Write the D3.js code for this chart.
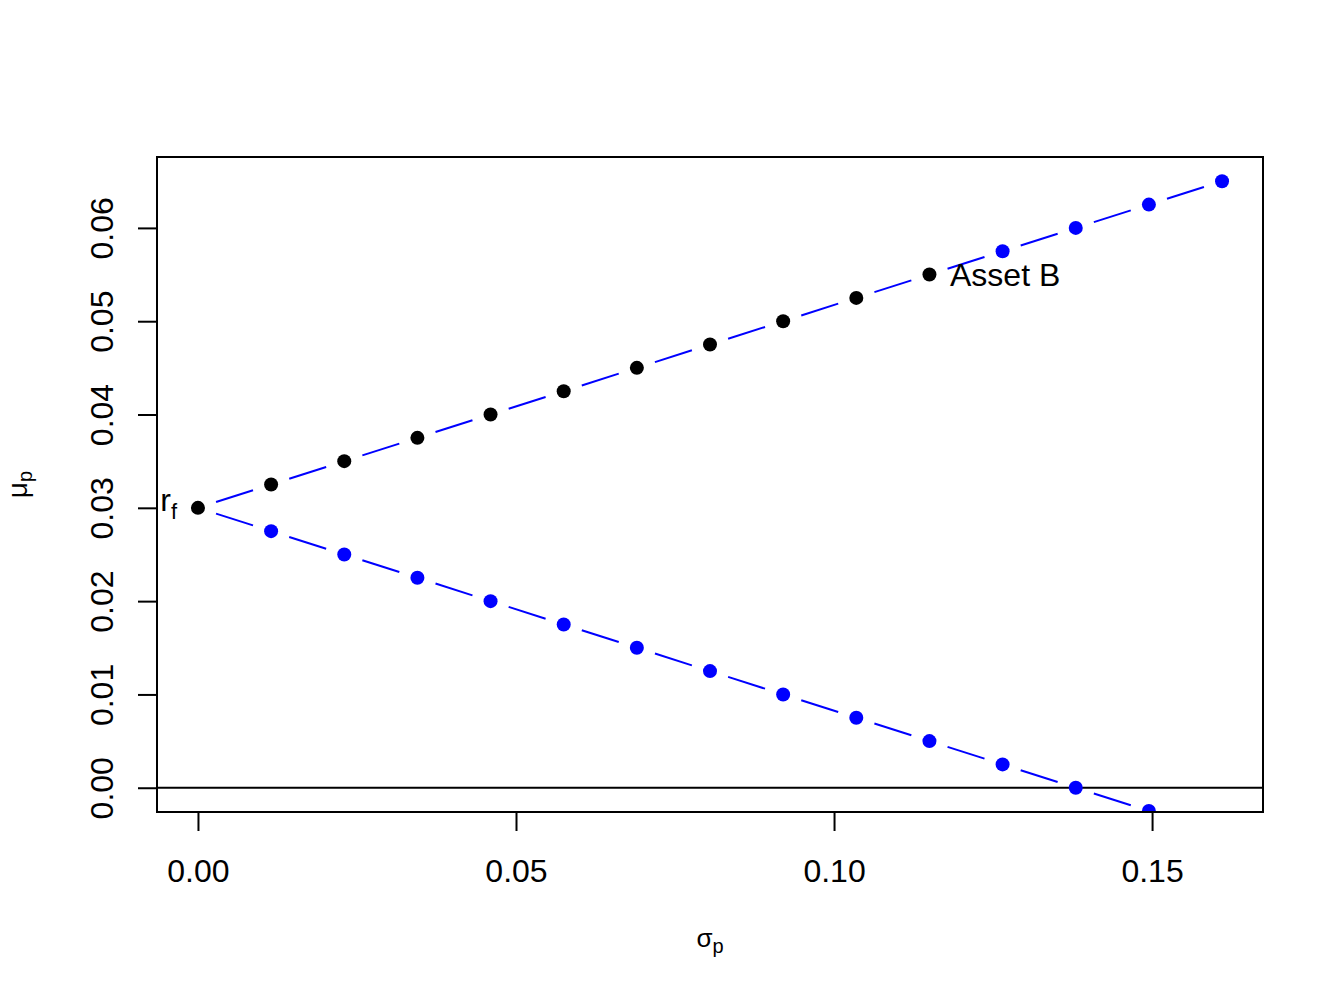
<!DOCTYPE html>
<html>
<head>
<meta charset="utf-8">
<script src="https://cdn.jsdelivr.net/npm/d3@7"></script>
<style>
  html, body { margin: 0; padding: 0; background: #fff; }
  svg { display: block; font-family: "Liberation Sans", Arial, sans-serif; }
</style>
</head>
<body>
<svg id="chart" width="1344" height="1008"></svg>
<script>
// ---- data ----
const upperSigma = [0, 0.0115, 0.023, 0.0345, 0.046, 0.0575, 0.069, 0.0805, 0.092, 0.1035, 0.115, 0.1265, 0.138, 0.1495, 0.161];
const upperMu    = [0.03, 0.0325, 0.035, 0.0375, 0.04, 0.0425, 0.045, 0.0475, 0.05, 0.0525, 0.055, 0.0575, 0.06, 0.0625, 0.065];
const upperColor = ["black","black","black","black","black","black","black","black","black","black","black","blue","blue","blue","blue"];
const lowerSigma = [0.0115, 0.023, 0.0345, 0.046, 0.0575, 0.069, 0.0805, 0.092, 0.1035, 0.115, 0.1265, 0.138, 0.1495];
const lowerMu    = [0.0275, 0.025, 0.0225, 0.02, 0.0175, 0.015, 0.0125, 0.01, 0.0075, 0.005, 0.0025, 0, -0.0025];
const rf = { sigma: 0, mu: 0.03 };
const assetB = { sigma: 0.115, mu: 0.055 };
const xTicks = [0, 0.05, 0.10, 0.15];
const xTickLabels = ["0.00", "0.05", "0.10", "0.15"];
const yTicks = [0, 0.01, 0.02, 0.03, 0.04, 0.05, 0.06];
const yTickLabels = ["0.00", "0.01", "0.02", "0.03", "0.04", "0.05", "0.06"];

// ---- layout ----
const L = 157, R = 1263, T = 157, B = 812;
const svg = d3.select("#chart");
const xRange = [0, 0.161], yRange = [0, 0.065];
const xPad = (xRange[1] - xRange[0]) * 0.04, yPad = (yRange[1] - yRange[0]) * 0.04;
const x = d3.scaleLinear().domain([xRange[0] - xPad, xRange[1] + xPad]).range([L, R]);
const y = d3.scaleLinear().domain([yRange[0] - yPad, yRange[1] + yPad]).range([B, T]);

svg.append("defs").append("clipPath").attr("id", "plotclip")
  .append("rect").attr("x", L).attr("y", T).attr("width", R - L).attr("height", B - T);

const plot = svg.append("g").attr("clip-path", "url(#plotclip)");

// horizontal line at 0
plot.append("line").attr("x1", L).attr("x2", R).attr("y1", y(0)).attr("y2", y(0))
  .attr("stroke", "black").attr("stroke-width", 2);

// type="b" style segments: gaps around points
function drawLineB(pts) {
  const gap = 19;
  for (let i = 0; i < pts.length - 1; i++) {
    const x0 = x(pts[i][0]), y0 = y(pts[i][1]);
    const x1 = x(pts[i + 1][0]), y1 = y(pts[i + 1][1]);
    const len = Math.hypot(x1 - x0, y1 - y0);
    if (len <= 2 * gap) continue;
    const ux = (x1 - x0) / len, uy = (y1 - y0) / len;
    plot.append("line")
      .attr("x1", x0 + ux * gap).attr("y1", y0 + uy * gap)
      .attr("x2", x1 - ux * gap).attr("y2", y1 - uy * gap)
      .attr("stroke", "blue").attr("stroke-width", 2);
  }
}
drawLineB(upperSigma.map((s, i) => [s, upperMu[i]]));
drawLineB([[rf.sigma, rf.mu]].concat(lowerSigma.map((s, i) => [s, lowerMu[i]])));

// points
plot.selectAll("circle.up").data(upperSigma).enter().append("circle")
  .attr("cx", d => x(d)).attr("cy", (d, i) => y(upperMu[i])).attr("r", 7)
  .attr("fill", (d, i) => upperColor[i]);
plot.selectAll("circle.lo").data(lowerSigma).enter().append("circle")
  .attr("cx", d => x(d)).attr("cy", (d, i) => y(lowerMu[i])).attr("r", 7)
  .attr("fill", "blue");

// box
svg.append("rect").attr("x", L).attr("y", T).attr("width", R - L).attr("height", B - T)
  .attr("fill", "none").attr("stroke", "black").attr("stroke-width", 2);

// x axis
const xAxis = d3.axisBottom(x).tickValues(xTicks).tickSize(19).tickPadding(0)
  .tickFormat((d, i) => xTickLabels[i]);
const gx = svg.append("g").attr("transform", `translate(0,${B})`).call(xAxis);
gx.select(".domain").remove();
gx.selectAll(".tick line").attr("stroke", "black").attr("stroke-width", 2);
gx.selectAll(".tick text").attr("font-size", 32).attr("fill", "black")
  .attr("font-family", "Liberation Sans, Arial, sans-serif")
  .attr("dy", null).attr("y", 70);

// y axis
const yAxis = d3.axisLeft(y).tickValues(yTicks).tickSize(19).tickPadding(0)
  .tickFormat((d, i) => yTickLabels[i]);
const gy = svg.append("g").attr("transform", `translate(${L},0)`).call(yAxis);
gy.select(".domain").remove();
gy.selectAll(".tick line").attr("stroke", "black").attr("stroke-width", 2);
gy.selectAll(".tick text").attr("font-size", 32).attr("fill", "black")
  .attr("font-family", "Liberation Sans, Arial, sans-serif")
  .attr("x", null).attr("dy", null)
  .attr("text-anchor", "middle")
  .attr("transform", "translate(-44,0) rotate(-90)");

// annotations
const tB = svg.append("text").attr("x", 950).attr("y", y(assetB.mu) + 11)
  .attr("font-size", 32).attr("fill", "black").text("Asset B");
const tr = svg.append("text").attr("x", 177).attr("y", y(rf.mu) + 3)
  .attr("text-anchor", "end").attr("font-size", 32).attr("fill", "black");
tr.append("tspan").text("r");
tr.append("tspan").attr("font-size", 22).attr("dy", 8).text("f");

// axis titles
const xt = svg.append("text").attr("x", (L + R) / 2).attr("y", 947)
  .attr("text-anchor", "middle").attr("fill", "black").attr("font-size", 26);
xt.append("tspan").text("σ");
xt.append("tspan").attr("font-size", 20).attr("dy", 6).text("p");

const yt = svg.append("text").attr("transform", `translate(27,${(T + B) / 2}) rotate(-90)`)
  .attr("text-anchor", "middle").attr("fill", "black").attr("font-size", 28);
yt.append("tspan").text("μ");
yt.append("tspan").attr("font-size", 20).attr("dy", 5).text("p");
</script>
</body>
</html>
